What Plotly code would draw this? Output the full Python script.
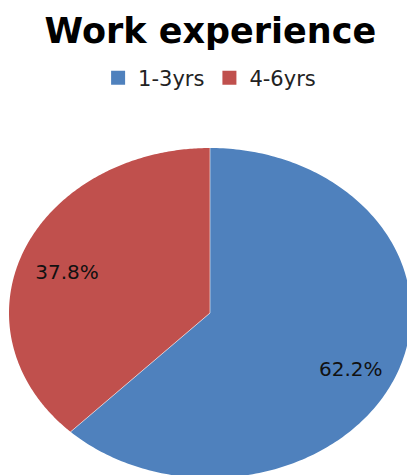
import numpy as np
import plotly.graph_objects as go

# Work experience shares
categories = ["1-3yrs", "4-6yrs"]
shares = [62.2, 37.8]
colors = ["#4F81BD", "#C0504D"]

W, H = 407, 475
ML, MT = 9, 148
RX, RY = 201, 165  # pixel radii of the elliptical pie

fig = go.Figure()

# Slices run clockwise from 12 o'clock
total = sum(shares)
start = 0.0
mids = []
edges = []
for cat, val, col in zip(categories, shares, colors):
    frac = val / total
    t = np.linspace(start, start + frac, 240) * 2 * np.pi
    xs = np.concatenate([[0], np.sin(t), [0]])
    ys = np.concatenate([[0], np.cos(t), [0]])
    fig.add_trace(go.Scatter(
        x=xs, y=ys, mode="none", fill="toself", fillcolor=col,
        showlegend=False, hoverinfo="skip",
    ))
    mids.append((start + frac / 2) * 2 * np.pi)
    edges.append(start * 2 * np.pi)
    start += frac

# thin light separators between slices
sx, sy = [], []
for a in edges:
    sx += [0, np.sin(a), None]
    sy += [0, np.cos(a), None]
fig.add_trace(go.Scatter(x=sx, y=sy, mode="lines",
                         line=dict(color="rgba(255,255,255,0.55)", width=1),
                         showlegend=False, hoverinfo="skip"))

# percentage labels inside each slice (pixel nudges, +y is downward)
radius = [0.75, 0.74]
nudge_px = [(1, 12), (-5, 7)]
lx = [r * np.sin(m) + dx / RX for r, m, (dx, dy) in zip(radius, mids, nudge_px)]
ly = [r * np.cos(m) - dy / RY for r, m, (dx, dy) in zip(radius, mids, nudge_px)]
fig.add_trace(go.Scatter(
    x=lx, y=ly, text=[f"{v:.1f}%" for v in shares], mode="text",
    textfont=dict(family="DejaVu Sans", size=20, color="#111111"),
    showlegend=False, hoverinfo="skip",
))

# square legend swatches
for cat, col in zip(categories, colors):
    fig.add_trace(go.Scatter(
        x=[None], y=[None], mode="markers", name=cat,
        marker=dict(symbol="square", size=14, color=col),
    ))

plot_w = W - ML
plot_h = H - MT
fig.update_xaxes(range=[-1, -1 + plot_w / RX], visible=False, fixedrange=True)
fig.update_yaxes(range=[1 - plot_h / RY, 1], visible=False, fixedrange=True)

fig.update_layout(
    width=W, height=H,
    margin=dict(l=ML, r=0, t=MT, b=0),
    paper_bgcolor="white", plot_bgcolor="white",
    title=dict(text="<b>Work experience</b>", x=0.517, xref="container", xanchor="center",
               y=1 - 31 / H, yanchor="middle",
               font=dict(family="DejaVu Sans", size=35, color="#000000")),
    legend=dict(orientation="h", x=0.515, xanchor="center", xref="container",
                y=1 - 78 / H, yref="container", yanchor="middle",
                font=dict(family="DejaVu Sans", size=21, color="#222222"),
                itemwidth=30, traceorder="normal"),
    showlegend=True,
)

fig.write_html("out.html")
